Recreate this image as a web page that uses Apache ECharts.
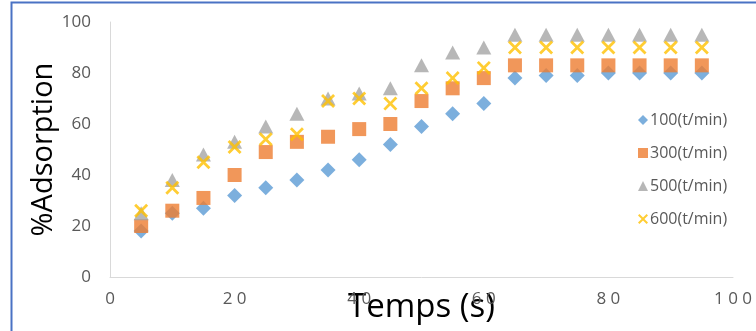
<!DOCTYPE html>
<html>
<head>
<meta charset="utf-8">
<script src="https://cdn.jsdelivr.net/npm/echarts@6/dist/echarts.min.js"></script>
<style>
  html, body { margin: 0; padding: 0; background: #fff; }
  #chart { width: 756px; height: 331px; }
</style>
</head>
<body>
<div id="chart"></div>
<script>
// Sampling times (s)
const temps = [5, 10, 15, 20, 25, 30, 35, 40, 45, 50, 55, 60, 65, 70, 75, 80, 85, 90, 95];

// % adsorption per stirring speed
const ads100 = [18, 25, 27, 32, 35, 38, 42, 46, 52, 59, 64, 68, 78, 79, 79, 80, 80, 80, 80];
const ads300 = [20, 26, 31, 40, 49, 53, 55, 58, 60, 69, 74, 78, 83, 83, 83, 83, 83, 83, 83];
const ads500 = [25, 38, 48, 53, 59, 64, 70, 72, 74, 83, 88, 90, 95, 95, 95, 95, 95, 95, 95];
const ads600 = [26, 35, 45, 51, 54, 56, 69, 70, 68, 74, 78, 82, 90, 90, 90, 90, 90, 90, 90];

const seriesNames = ['100(t/min)', '300(t/min)', '500(t/min)', '600(t/min)'];
const xTicks = [0, 20, 40, 60, 80, 100];
const yTicks = [0, 20, 40, 60, 80, 100];

const crossPath = 'path://M0,1.4L1.4,0L5,3.6L8.6,0L10,1.4L6.4,5L10,8.6L8.6,10L5,6.4L1.4,10L0,8.6L3.6,5Z';

function pairs(vals) {
  return temps.map((t, i) => [t, vals[i]]);
}

const chart = echarts.init(document.getElementById('chart'), null, { renderer: 'canvas' });

const FONT = '"Open Sans", sans-serif';

chart.setOption({
  animation: false,
  backgroundColor: '#ffffff',
  textStyle: { fontFamily: FONT },
  graphic: [{
    type: 'rect',
    shape: { x: 11.5, y: 2.5, width: 800, height: 400 },
    style: { fill: 'none', stroke: '#4a72c4', lineWidth: 2 },
    silent: true,
    z: 100
  }],
  grid: { left: 110, right: 23, top: 22, bottom: 54, outerBoundsMode: 'none', containLabel: false },
  legend: {
    orient: 'vertical',
    left: 633,
    top: 107,
    itemGap: 17,
    itemWidth: 10,
    itemHeight: 10,
    textStyle: { fontSize: 16, color: '#595959', fontFamily: FONT, padding: [0, 0, 0, -3] },
    data: [
      { name: seriesNames[0], icon: 'diamond' },
      { name: seriesNames[1], icon: 'rect' },
      { name: seriesNames[2], icon: 'triangle' },
      { name: seriesNames[3], icon: crossPath }
    ]
  },
  xAxis: {
    type: 'value',
    min: xTicks[0],
    max: xTicks[xTicks.length - 1],
    interval: 20,
    name: 'Temps (s)',
    nameLocation: 'middle',
    nameGap: 14,
    nameMoveOverlap: false,
    nameTextStyle: { fontSize: 33, color: '#000', fontFamily: FONT, verticalAlign: 'top' },
    axisLine: { show: true, lineStyle: { color: '#d9d9d9', width: 1 } },
    axisTick: { show: false },
    splitLine: { show: false },
    axisLabel: {
      fontSize: 17,
      color: '#595959',
      margin: 14,
      formatter: v => String(v).split('').join(' ')
    }
  },
  yAxis: {
    type: 'value',
    min: yTicks[0],
    max: yTicks[yTicks.length - 1],
    interval: 20,
    name: '%Adsorption',
    nameLocation: 'middle',
    nameGap: 52,
    nameMoveOverlap: false,
    nameTextStyle: { fontSize: 29, color: '#000', fontFamily: FONT },
    axisLine: { show: true, lineStyle: { color: '#d9d9d9', width: 1 } },
    axisTick: { show: false },
    splitLine: { show: false },
    axisLabel: { fontSize: 17, color: '#595959', margin: 19 }
  },
  series: [
    {
      name: seriesNames[0], type: 'scatter', data: pairs(ads100),
      symbol: 'diamond', symbolSize: 15,
      itemStyle: { color: '#5b9bd5' }
    },
    {
      name: seriesNames[1], type: 'scatter', data: pairs(ads300),
      symbol: 'rect', symbolSize: 14,
      itemStyle: { color: '#ed7d31' }
    },
    {
      name: seriesNames[2], type: 'scatter', data: pairs(ads500),
      symbol: 'triangle', symbolSize: [15, 14],
      itemStyle: { color: '#a5a5a5' }
    },
    {
      name: seriesNames[3], type: 'scatter', data: pairs(ads600),
      symbol: crossPath, symbolSize: 14,
      itemStyle: { color: '#ffc000' }
    }
  ]
});
</script>
</body>
</html>
